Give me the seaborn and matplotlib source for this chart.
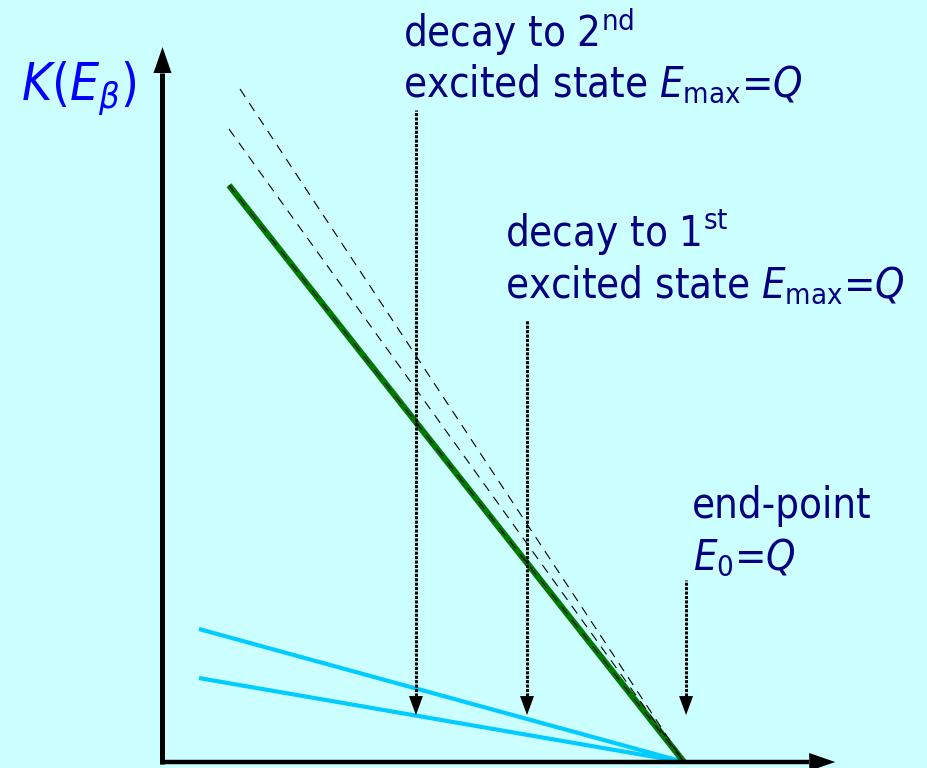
import numpy as np
import pandas as pd
import matplotlib
matplotlib.use("Agg")
import matplotlib.pyplot as plt
import seaborn as sns

# ---- data: Kurie-plot lines K(E) falling to zero at the end-point Q ----
Q = 1.0

total_E = [0.1275, Q]
total_K = [1.106, 0.0]

branch1_E = [0.1486, Q]
branch1_K = [1.2905, 0.0]

branch2_E = [0.1275, Q]
branch2_K = [1.2138, 0.0]

ground_hi_E = [0.070, Q]
ground_hi_K = [0.255, 0.0]

ground_lo_E = [0.070, Q]
ground_lo_K = [0.161, 0.0]

# markers for the three end-points (2nd excited, 1st excited, ground)
marker_E = [0.486, 0.699, 1.004]
marker_top = [1.250, 0.848, 0.349]
marker_tip = 0.090

# ---- style ----
sns.set_style("white")
plt.rcParams["font.family"] = ["DejaVu Sans"]
plt.rcParams["font.stretch"] = "condensed"
plt.rcParams["mathtext.fontset"] = "custom"
plt.rcParams["mathtext.rm"] = "DejaVu Sans:stretch=condensed"
plt.rcParams["mathtext.it"] = "DejaVu Sans:italic:stretch=condensed"
plt.rcParams["mathtext.bf"] = "DejaVu Sans:bold:stretch=condensed"

BG = "#CCFFFF"
NAVY = "#000080"
BLUE = "#0000FF"
GREEN = "#007A00"
CYAN = "#00CCFF"

fig = plt.figure(figsize=(9.27, 7.68), dpi=100, facecolor=BG)
ax = fig.add_axes([0, 0, 1, 1])
ax.set_facecolor(BG)
ax.set_xlim(-0.3116, 1.466)
ax.set_ylim(-0.0115, 1.4612)
ax.axis("off")


def seg(E, K):
    return pd.DataFrame({"E": E, "K": K})


# cyan lines
for E, K in [(ground_hi_E, ground_hi_K), (ground_lo_E, ground_lo_K)]:
    sns.lineplot(data=seg(E, K), x="E", y="K", ax=ax, color=CYAN, lw=3.0,
                 sort=False, estimator=None, solid_capstyle="butt", zorder=2)

# thick green total line
sns.lineplot(data=seg(total_E, total_K), x="E", y="K", ax=ax, color=GREEN,
             lw=4.5, sort=False, estimator=None, solid_capstyle="butt", zorder=3)

# thin dashed lines
dash = (0, (8.5, 6.6))
for E, K in [(branch1_E, branch1_K), (branch2_E, branch2_K), (total_E, total_K)]:
    sns.lineplot(data=seg(E, K), x="E", y="K", ax=ax, color="black", lw=0.8,
                 sort=False, estimator=None, linestyle=dash, zorder=4)

HEAD_SCALE = 10  # points


def head(tip, base, length_px, halfwidth_px):
    px = 100 / 72 * HEAD_SCALE
    ax.annotate("", xy=tip, xytext=base,
                arrowprops=dict(arrowstyle=f"-|>,head_length={length_px/px:.3f},"
                                           f"head_width={halfwidth_px/px:.3f}",
                                color="black", lw=0, shrinkA=0, shrinkB=0,
                                mutation_scale=HEAD_SCALE),
                zorder=6)


# dotted markers
px_unit = 1 / 521.5
head_len = 19 * px_unit
for e, top in zip(marker_E, marker_top):
    ax.vlines(e, marker_tip + head_len, top, colors="black", lw=2.2,
              linestyles=[(0, (1.0, 0.45))], zorder=5)
    head((e, marker_tip), (e, marker_tip + head_len), 19, 7)

# coordinate axes with arrow heads
x_tip, y_tip = 1.290, 1.371
ax_head = 26 * px_unit
ax.plot([0, 0], [-0.004, y_tip - ax_head], color="black", lw=3.6,
        solid_capstyle="butt", zorder=6)
ax.plot([-0.004, x_tip - ax_head], [0, 0], color="black", lw=3.2,
        solid_capstyle="butt", zorder=6)
head((0, y_tip), (0, y_tip - ax_head), 26, 9)
head((x_tip, 0), (x_tip - ax_head, 0), 26, 9)

# labels
fs = 30
ax.text(-0.2713, 1.2694, r"$K$($E_\beta$)", color=BLUE, fontsize=37,
        ha="left", va="baseline")
ax.text(0.4612, 1.371, r"decay to 2$^{\mathrm{nd}}$", color=NAVY, fontsize=fs,
        ha="left", va="baseline")
ax.text(0.4612, 1.2752, r"excited state $E_{\mathrm{max}}$=$Q$", color=NAVY,
        fontsize=fs, ha="left", va="baseline")
ax.text(0.6568, 0.9875, r"decay to 1$^{\mathrm{st}}$", color=NAVY, fontsize=fs,
        ha="left", va="baseline")
ax.text(0.6568, 0.8897, r"excited state $E_{\mathrm{max}}$=$Q$", color=NAVY,
        fontsize=fs, ha="left", va="baseline")
ax.text(1.0153, 0.4679, "end-point", color=NAVY, fontsize=fs,
        ha="left", va="baseline")
ax.text(1.0173, 0.3682, r"$E_0$=$Q$", color=NAVY, fontsize=fs,
        ha="left", va="baseline")

fig.savefig("out.png", dpi=100, facecolor=BG)
